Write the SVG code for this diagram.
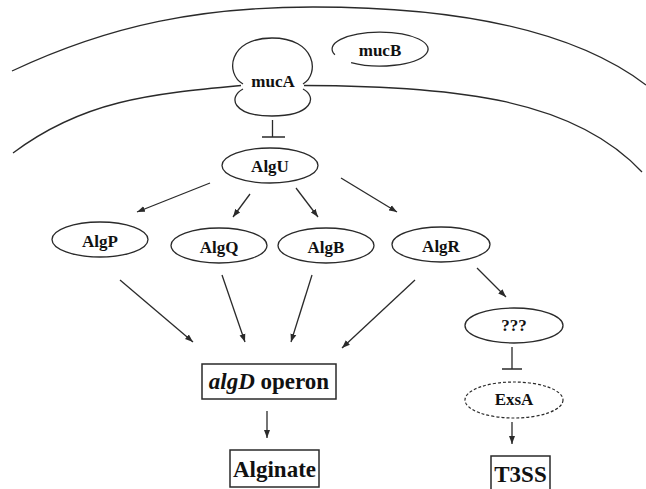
<svg xmlns="http://www.w3.org/2000/svg" width="646" height="489" viewBox="0 0 646 489">
<style>
.ln{fill:none;stroke:#2a2a2a;stroke-width:1.3}
.nd{fill:#fff;stroke:#2a2a2a;stroke-width:1.3}
.dash{fill:#fff;stroke:#2a2a2a;stroke-width:1.2;stroke-dasharray:3 2}
.bx{fill:#fff;stroke:#2a2a2a;stroke-width:1.5}
.t{font-family:"Liberation Serif","Times New Roman",serif;font-weight:bold;font-size:17px;fill:#111;text-anchor:middle}
.T{font-family:"Liberation Serif","Times New Roman",serif;font-weight:bold;font-size:23px;fill:#111;text-anchor:middle}
</style>
<defs>
<marker id="ah" markerUnits="userSpaceOnUse" markerWidth="9" markerHeight="7" refX="8" refY="3.5" orient="auto">
<path d="M0,0.5 L8,3.5 L0,6.5 z" fill="#2a2a2a"/>
</marker>
</defs>
<rect width="646" height="489" fill="#fff"/>
<g id="membranes">
<path class="ln" d="M12,71 C112,24 203,7 313,7 C463,7 575,31 646,85"/>
<path class="ln" d="M13,153 C83,100.5 150,94 241,85.5"/>
<path class="ln" d="M304,85.5 C460,86 575,100 642,172"/>
</g>
<g id="mucA">
<path class="ln" d="M243,84 C225,74 228,38 272,38 C316,38 320,74 303,84"/>
<path class="ln" d="M243,89 C228,97 232,116 272,116 C312,116 318,97 303,89"/>
<text class="t" x="273" y="87">mucA</text>
</g>
<g id="mucB">
<path class="ln" d="M351.1,62.6 A48,17 0 1 0 334.9,54.8"/>
<text class="t" x="380" y="56">mucB</text>
</g>
<g id="AlgU">
<ellipse class="nd" cx="270" cy="165.5" rx="48" ry="17.5"/>
<text class="t" x="270" y="172">AlgU</text>
</g>
<g id="AlgP">
<ellipse class="nd" cx="100" cy="239.5" rx="48" ry="17.5"/>
<text class="t" x="100" y="247">AlgP</text>
</g>
<g id="AlgQ">
<ellipse class="nd" cx="219" cy="245.5" rx="48" ry="17.5"/>
<text class="t" x="219" y="253">AlgQ</text>
</g>
<g id="AlgB">
<ellipse class="nd" cx="326" cy="245.5" rx="48" ry="17.5"/>
<text class="t" x="326" y="253">AlgB</text>
</g>
<g id="AlgR">
<ellipse class="nd" cx="441" cy="244.5" rx="49" ry="17.5"/>
<text class="t" x="441" y="252">AlgR</text>
</g>
<g id="unknown">
<ellipse class="nd" cx="514" cy="325.5" rx="49" ry="17.5"/>
<text class="t" x="514" y="331">???</text>
</g>
<g id="ExsA">
<ellipse class="dash" cx="514" cy="400" rx="49" ry="18"/>
<text class="t" x="514" y="405">ExsA</text>
</g>
<g id="algD">
<rect class="bx" x="202" y="364" width="134" height="35"/>
<text class="T" x="269" y="389"><tspan font-style="italic">algD</tspan> operon</text>
</g>
<g id="Alginate">
<rect class="bx" x="230" y="450" width="89" height="37"/>
<text class="T" x="274.5" y="477">Alginate</text>
</g>
<g id="T3SS">
<rect class="bx" x="491" y="456" width="59" height="40"/>
<text class="T" x="520.5" y="482" font-size="22">T3SS</text>
</g>
<g id="connectors">
<path class="ln" d="M272.5,120 V137 M262,137 H285"/>
<path class="ln" d="M512,347 V369 M502,369 H522"/>
<line class="ln" x1="210" y1="183" x2="137" y2="212" marker-end="url(#ah)"/>
<line class="ln" x1="250" y1="194" x2="233" y2="217" marker-end="url(#ah)"/>
<line class="ln" x1="296" y1="188" x2="318" y2="217" marker-end="url(#ah)"/>
<line class="ln" x1="341" y1="178" x2="397" y2="212" marker-end="url(#ah)"/>
<line class="ln" x1="120" y1="280" x2="193" y2="342" marker-end="url(#ah)"/>
<line class="ln" x1="222" y1="275" x2="245" y2="342" marker-end="url(#ah)"/>
<line class="ln" x1="312" y1="275" x2="291" y2="342" marker-end="url(#ah)"/>
<line class="ln" x1="415" y1="280" x2="342" y2="348" marker-end="url(#ah)"/>
<line class="ln" x1="477" y1="268" x2="506" y2="297" marker-end="url(#ah)"/>
<line class="ln" x1="267" y1="411" x2="267" y2="438" marker-end="url(#ah)"/>
<line class="ln" x1="512" y1="422" x2="512" y2="444" marker-end="url(#ah)"/>
</g>
</svg>
